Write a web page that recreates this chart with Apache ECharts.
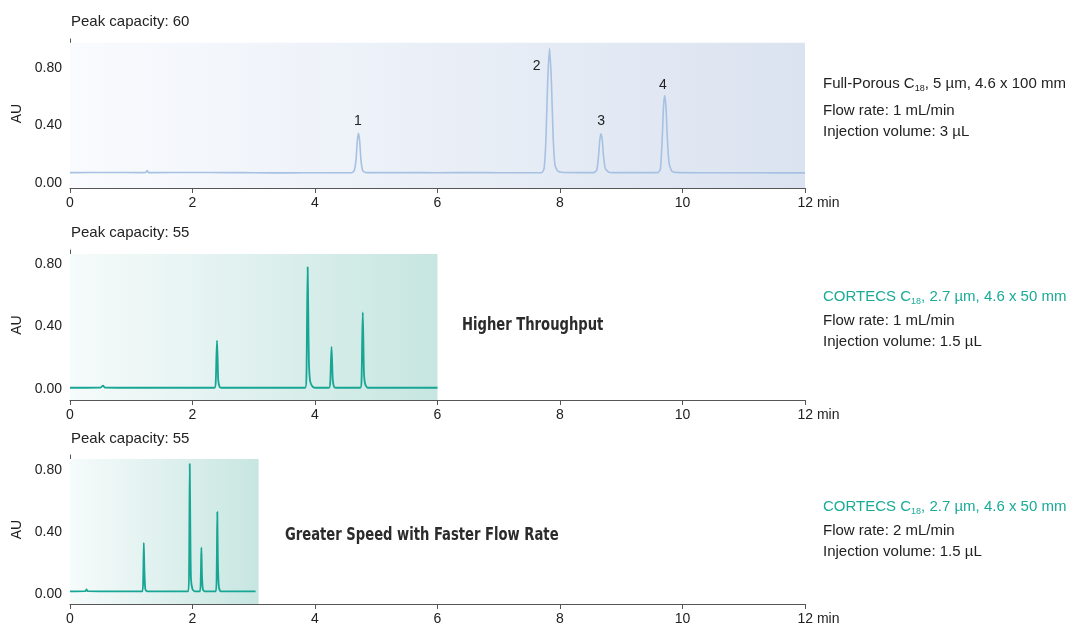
<!DOCTYPE html>
<html>
<head>
<meta charset="utf-8">
<script src="https://cdn.jsdelivr.net/npm/echarts@6/dist/echarts.min.js"></script>
<style>
html,body{margin:0;padding:0;background:#fff;}
#chart{width:1070px;height:624px;}
</style>
</head>
<body>
<div id="chart"></div>
<script>
// ---- data (time in min, absorbance in AU) ----
var xTicks = [0, 2, 4, 6, 8, 10, 12];
var yTicks = [0, 0.4, 0.8];

var fullPorousTrace = [
  [0,0.072],[0.6,0.073],[1.2,0.072],[1.24,0.074],[1.26,0.086],[1.28,0.073],[1.32,0.072],
  [2,0.073],[2.6,0.072],[3,0.071],[3.6,0.07],[4,0.071],[4.6,0.071],
  [4.64,0.085],[4.67,0.16],[4.69,0.29],[4.71,0.345],[4.73,0.29],[4.75,0.16],[4.78,0.085],[4.83,0.072],
  [5.5,0.072],[6,0.071],[6.6,0.072],[7,0.071],[7.7,0.072],
  [7.74,0.1],[7.77,0.3],[7.8,0.72],[7.83,0.935],[7.86,0.7],[7.89,0.3],[7.92,0.12],[7.97,0.08],[8.05,0.073],
  [8.55,0.072],[8.6,0.09],[8.63,0.19],[8.65,0.3],[8.67,0.342],[8.69,0.3],[8.71,0.19],[8.74,0.1],[8.8,0.075],[8.9,0.072],
  [9.6,0.072],[9.64,0.1],[9.67,0.32],[9.69,0.53],[9.71,0.607],[9.73,0.53],[9.75,0.33],[9.78,0.14],[9.83,0.08],[9.95,0.072],
  [10.5,0.071],[11,0.071],[11.5,0.07],[12,0.07]
];

var cortecs1Trace = [
  [0,0.008],[0.5,0.009],[0.54,0.022],[0.57,0.009],[1,0.008],[1.5,0.008],[2,0.008],[2.36,0.008],
  [2.38,0.05],[2.39,0.2],[2.40,0.31],[2.41,0.2],[2.42,0.06],[2.44,0.015],[2.47,0.008],
  [3,0.008],[3.5,0.008],[3.84,0.008],
  [3.86,0.08],[3.87,0.45],[3.88,0.78],[3.89,0.5],[3.90,0.18],[3.92,0.05],[3.96,0.015],[4.0,0.008],
  [4.23,0.008],[4.25,0.05],[4.26,0.18],[4.27,0.27],[4.28,0.17],[4.29,0.06],[4.31,0.015],[4.34,0.008],
  [4.74,0.008],[4.76,0.06],[4.77,0.3],[4.78,0.49],[4.79,0.3],[4.80,0.1],[4.82,0.03],[4.86,0.008],
  [5.5,0.008],[6.0,0.008]
];

var cortecs2Trace = [
  [0,0.017],[0.25,0.018],[0.27,0.03],[0.29,0.018],[0.6,0.017],[1,0.017],[1.18,0.017],
  [1.195,0.1],[1.205,0.33],[1.215,0.15],[1.23,0.03],[1.26,0.017],
  [1.6,0.017],[1.93,0.017],
  [1.945,0.2],[1.955,0.84],[1.965,0.4],[1.975,0.1],[2.0,0.03],[2.04,0.017],
  [2.12,0.017],[2.135,0.1],[2.145,0.30],[2.155,0.12],[2.17,0.03],[2.2,0.017],
  [2.38,0.017],[2.395,0.15],[2.405,0.53],[2.415,0.2],[2.43,0.05],[2.46,0.017],
  [2.8,0.017],[3.03,0.017]
];

var peakLabels = ['1', '2', '3', '4'];
var peakLabelCoords = [[4.7, 0.43], [7.62, 0.81], [8.67, 0.43], [9.68, 0.68]];

var shadeEnd = [12, 6, 3.08];
var shadeTop = [0.974, 0.864, 0.871];

var peakCapacities = ['Peak capacity: 60', 'Peak capacity: 55', 'Peak capacity: 55'];
var columnTexts = [
  'Full-Porous C{sub|18}, 5 µm, 4.6 x 100 mm',
  'CORTECS C{sub|18}, 2.7 µm, 4.6 x 50 mm',
  'CORTECS C{sub|18}, 2.7 µm, 4.6 x 50 mm'
];
var flowTexts = ['Flow rate: 1 mL/min', 'Flow rate: 1 mL/min', 'Flow rate: 2 mL/min'];
var injTexts = ['Injection volume: 3 µL', 'Injection volume: 1.5 µL', 'Injection volume: 1.5 µL'];
var callouts = ['', 'Higher Throughput', 'Greater Speed with Faster Flow Rate'];

// ---- layout/style ----
var FONT = '"Liberation Sans", Arial, Helvetica, sans-serif';
var grids = [
  {left: 70, right: 265, top: 39, height: 149, outerBoundsMode: 'none', containLabel: false},
  {left: 70, right: 265, top: 250, height: 150, outerBoundsMode: 'none', containLabel: false},
  {left: 70, right: 265, top: 455, height: 149, outerBoundsMode: 'none', containLabel: false}
];
var yRanges = [[-0.035, 1.0], [-0.0704, 0.889], [-0.0645, 0.897]];
var lineColors = ['#a6c1e2', '#17a594', '#17a594'];
var lineWidths = [1.6, 1.8, 1.8];
var shadeFrom = ['#f9fbfe', '#f6fbfb', '#f6fbfb'];
var shadeTo = ['#dbe3f0', '#c7e6e1', '#c7e6e1'];
var traces = [fullPorousTrace, cortecs1Trace, cortecs2Trace];

var xAxes = [], yAxes = [], series = [];
for (var i = 0; i < 3; i++) {
  xAxes.push({
    gridIndex: i, type: 'value', min: 0, max: 12, interval: 2,
    axisLine: {show: true, onZero: false, lineStyle: {color: '#555', width: 1}},
    axisTick: {show: true, length: 5, lineStyle: {color: '#555'}},
    splitLine: {show: false},
    axisLabel: {
      fontFamily: FONT, fontSize: 14, color: '#222', margin: 8,
      formatter: function (v) { return v === 12 ? '{pad|}12 min' : String(v); },
      rich: {pad: {width: 27}}
    }
  });
  yAxes.push({
    gridIndex: i, type: 'value', min: yRanges[i][0], max: yRanges[i][1],
    name: 'AU', nameLocation: 'middle', nameGap: 41, nameRotate: 90,
    nameTextStyle: {fontFamily: FONT, fontSize: 14, color: '#222'},
    axisLine: {show: true, lineStyle: {color: '#555', width: 1}},
    axisTick: {show: false},
    splitLine: {show: false},
    axisLabel: {
      fontFamily: FONT, fontSize: 14, color: '#222', margin: 8,
      customValues: yTicks,
      formatter: function (v) { return v.toFixed(2); }
    }
  });
  var s = {
    type: 'line', xAxisIndex: i, yAxisIndex: i, data: traces[i],
    showSymbol: false, symbol: 'none', smooth: 0.2,
    lineStyle: {color: lineColors[i], width: lineWidths[i]},
    silent: true, z: 3,
    markArea: {
      silent: true,
      itemStyle: {
        color: new echarts.graphic.LinearGradient(0, 0, 1, 0, [
          {offset: 0, color: shadeFrom[i]}, {offset: 1, color: shadeTo[i]}
        ])
      },
      data: [[{xAxis: 0, yAxis: yRanges[i][0]}, {xAxis: shadeEnd[i], yAxis: shadeTop[i]}]]
    }
  };
  if (i === 0) {
    s.markPoint = {
      symbol: 'circle', symbolSize: 0, silent: true,
      label: {show: true, position: 'inside', fontFamily: FONT, fontSize: 14, color: '#222',
        formatter: function (p) { return p.name; }},
      data: peakLabels.map(function (n, k) { return {name: n, coord: peakLabelCoords[k]}; })
    };
  }
  series.push(s);
}

var capCenters = [22, 233, 439];
var infoCenters = [[84, 111, 132], [297, 321, 342], [507, 531, 552]];
var calloutCenters = [0, 326, 536];
var calloutLefts = [0, 462, 285];
var graphic = [];
for (var j = 0; j < 3; j++) {
  var col = j === 0 ? '#222' : '#1aab97';
  graphic.push({type: 'text', x: 71, y: capCenters[j],
    style: {text: peakCapacities[j], font: '15px ' + FONT, fill: '#222', verticalAlign: 'middle'}});
  graphic.push({type: 'text', x: 823, y: infoCenters[j][0],
    style: {text: columnTexts[j], fontFamily: FONT, fontSize: 15, lineHeight: 18, fill: col, verticalAlign: 'middle',
      rich: {sub: {fontFamily: FONT, fontSize: 9, verticalAlign: 'bottom', lineHeight: 8, fill: col}}}});
  graphic.push({type: 'text', x: 823, y: infoCenters[j][1],
    style: {text: flowTexts[j], font: '15px ' + FONT, fill: '#222', verticalAlign: 'middle'}});
  graphic.push({type: 'text', x: 823, y: infoCenters[j][2],
    style: {text: injTexts[j], font: '15px ' + FONT, fill: '#222', verticalAlign: 'middle'}});
  if (callouts[j]) {
    graphic.push({type: 'text', x: calloutLefts[j], y: calloutCenters[j], scaleX: 0.86,
      style: {text: callouts[j], font: 'bold 17px "DejaVu Sans Condensed", Roboto, sans-serif', fill: '#2b2b2b', verticalAlign: 'middle'}});
  }
}

var chart = echarts.init(document.getElementById('chart'), null, {renderer: 'canvas'});
chart.setOption({
  animation: false,
  backgroundColor: '#ffffff',
  grid: grids,
  xAxis: xAxes,
  yAxis: yAxes,
  series: series,
  graphic: graphic
});
</script>
</body>
</html>
